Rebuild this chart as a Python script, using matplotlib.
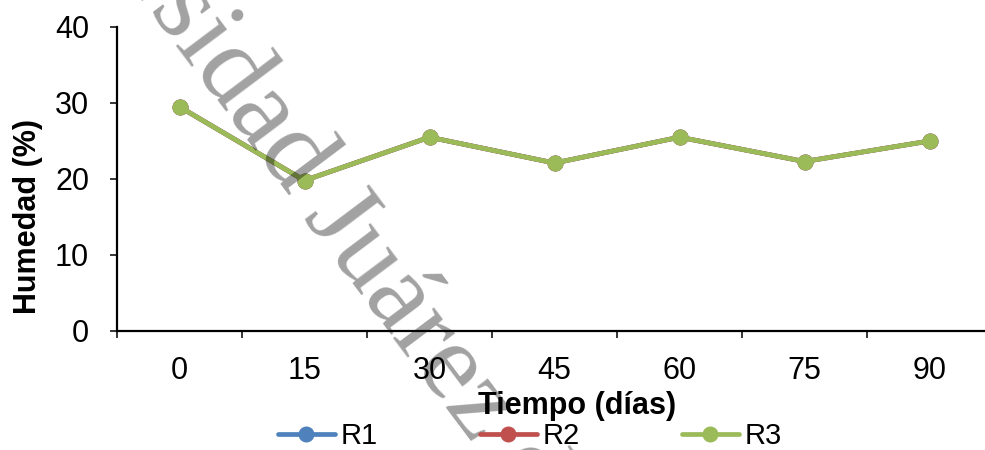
import matplotlib
matplotlib.use("Agg")
import matplotlib.pyplot as plt
from matplotlib.ticker import FixedLocator

# Moisture over time for three replicates
dias = ["0", "15", "30", "45", "60", "75", "90"]
r1 = [29.5, 19.8, 25.5, 22.1, 25.5, 22.3, 25.0]
r2 = [29.5, 19.8, 25.5, 22.1, 25.5, 22.3, 25.0]
r3 = [29.5, 19.8, 25.5, 22.1, 25.5, 22.3, 25.0]

series = [("R1", r1, "#4F81BD"), ("R2", r2, "#C0504D"), ("R3", r3, "#9BBB59")]

W, H = 985, 450
plt.rcParams["font.family"] = ["Liberation Sans", "DejaVu Sans"]

fig = plt.figure(figsize=(W / 100, H / 100), dpi=100)
ax = fig.add_axes([117 / W, 119 / H, 875 / W, 304 / H])

x = list(range(len(dias)))
handles = []
for name, vals, col in series:
    h, = ax.plot(x, vals, color=col, lw=3.4, marker="o", ms=10.5,
                 solid_capstyle="round", label=name)
    handles.append(h)

ax.set_xlim(-0.5, len(dias) - 0.5)
ax.set_ylim(0, 40)
ax.set_yticks([0, 10, 20, 30, 40])
ax.set_xticks(x)
ax.set_xticklabels(dias)
ax.xaxis.set_minor_locator(FixedLocator([i - 0.5 for i in range(len(dias) + 1)]))

ax.tick_params(axis="x", which="major", length=0, pad=18, labelsize=22)
ax.tick_params(axis="x", which="minor", length=5, width=1.1, direction="out")
ax.tick_params(axis="y", length=5, width=1.1, direction="out", pad=15, labelsize=22)

for s in ["top", "right"]:
    ax.spines[s].set_visible(False)
for s in ["left", "bottom"]:
    ax.spines[s].set_linewidth(1.6)

fig.text(28 / W, 1 - 217 / H, "Humedad (%)", rotation=90, ha="center", va="center",
         fontsize=22, fontweight="bold")
fig.text(577 / W, 1 - 406 / H, "Tiempo (días)", ha="center", va="center",
         fontsize=22, fontweight="bold")

fig.legend(handles=handles, loc="center", bbox_to_anchor=(530 / W, 1 - 436 / H),
           ncol=3, frameon=False, fontsize=21, handlelength=1.95,
           handletextpad=0.2, columnspacing=3.5, numpoints=1,
           borderaxespad=0, borderpad=0)

# diagonal watermark
wm = dict(rotation=-53.1, rotation_mode="anchor", va="baseline",
          fontsize=80, family="Liberation Serif", color="black", alpha=0.37)
fig.text(288 / W, 1 - 198 / H, "Universidad", ha="right", **wm)
fig.text(302 / W, 1 - 217 / H, "Juárez del Estado de Durango", ha="left", **wm)

fig.savefig("out.png", dpi=100)
